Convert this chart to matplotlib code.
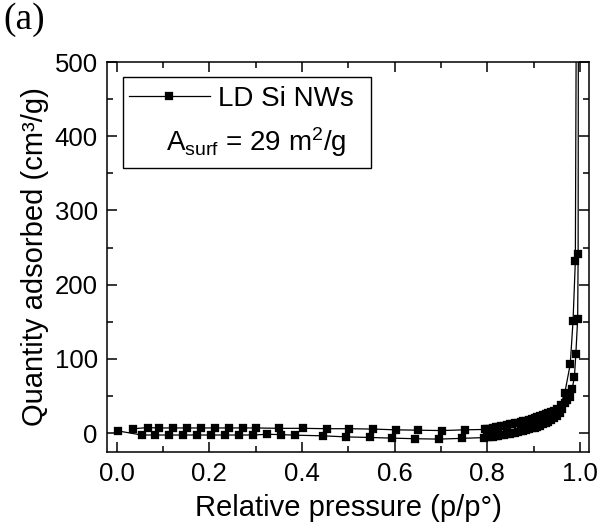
import matplotlib
matplotlib.use('Agg')
import matplotlib.pyplot as plt
from matplotlib.patches import Rectangle
from matplotlib.ticker import MultipleLocator

plt.rcParams['font.family'] = ['Liberation Sans', 'DejaVu Sans']
plt.rcParams['mathtext.default'] = 'regular'

# adsorption branch (lower)
ads_p = [0.003, 0.054, 0.083, 0.113, 0.144, 0.174, 0.204, 0.234, 0.264, 0.295,
         0.325, 0.355, 0.385, 0.445, 0.495, 0.546, 0.595, 0.644, 0.695, 0.745,
         0.792, 0.800, 0.806, 0.812, 0.818, 0.824, 0.830, 0.836, 0.842, 0.848,
         0.854, 0.860, 0.866, 0.872, 0.878, 0.884, 0.890, 0.896, 0.902, 0.908,
         0.914, 0.920, 0.926, 0.932, 0.938, 0.944, 0.950, 0.956, 0.962, 0.968,
         0.973, 0.978, 0.983, 0.988, 0.991, 0.995, 0.996, 0.997]
ads_q = [3, -2.5, -2.5, -2.5, -2.5, -2.5, -2.5, -2.5, -2.5, -2.5,
         -1.5, -2, -2.7, -3.6, -5, -5.8, -6.7, -7.5, -8, -7,
         -6, -5.5, -5, -4.5, -4, -3.4, -2.8, -2.2, -1.5, -0.8,
         0, 0.8, 1.6, 2.4, 3.3, 4.3, 5.3, 6.4, 7.5, 8.8,
         10.2, 11.8, 13.5, 15.5, 17.5, 20, 23, 27, 33, 40,
         45, 49, 59, 76, 106, 154, 241, 900]

# desorption branch (upper)
des_p = [0.994, 0.990, 0.985, 0.979, 0.967, 0.958, 0.950, 0.944, 0.938, 0.932,
         0.926, 0.920, 0.914, 0.908, 0.902, 0.896, 0.890, 0.884, 0.878, 0.872,
         0.866, 0.860, 0.854, 0.848, 0.842, 0.836, 0.830, 0.824, 0.818, 0.812,
         0.806, 0.800, 0.795, 0.751, 0.702, 0.651, 0.602, 0.553, 0.502, 0.453,
         0.403, 0.351, 0.300, 0.272, 0.243, 0.212, 0.183, 0.152, 0.122, 0.091,
         0.067, 0.036]
des_q = [900, 232, 151, 93, 53.5, 38, 32.5, 30, 28.2, 26.7,
         25.3, 24, 22.7, 21.5, 20.3, 19.2, 18, 17, 16, 15,
         14.2, 13.4, 12.6, 11.8, 11, 10.2, 9.4, 8.6, 7.8, 7,
         6.2, 5.5, 5, 4.5, 3.5, 4, 4.5, 5.5, 6, 6,
         6.5, 6.5, 7, 7, 7, 7, 7, 7, 7, 7,
         7.5, 6]

fig = plt.figure(figsize=(6, 5.3), dpi=100)
ax = fig.add_axes([0.179, 0.147, 0.802, 0.736])

style = dict(color='black', lw=0.9, marker='s', markersize=5.5,
             markerfacecolor='black', markeredgecolor='black', markeredgewidth=0.2)
line, = ax.plot(ads_p, ads_q, **style)
ax.plot(des_p, des_q, **style)

ax.set_xlim(-0.02, 1.0186)
ax.set_ylim(-25.5, 500)
ax.xaxis.set_major_locator(MultipleLocator(0.2))
ax.xaxis.set_minor_locator(MultipleLocator(0.1))
ax.yaxis.set_major_locator(MultipleLocator(100))
ax.yaxis.set_minor_locator(MultipleLocator(50))
ax.xaxis.set_major_formatter(plt.FuncFormatter(lambda v, p: '%.1f' % v))

ax.tick_params(which='both', direction='in', top=True, right=True, width=1.1,
               labelsize=18.5, pad=7)
ax.tick_params(which='major', length=7)
ax.tick_params(which='minor', length=4)
for s in ax.spines.values():
    s.set_linewidth(1.1)

ax.set_xlabel('Relative pressure (p/p°)', fontsize=21, labelpad=6)
ax.set_ylabel('Quantity adsorbed (cm³/g)', fontsize=21, labelpad=4)

# legend box
ax.add_patch(Rectangle((0.033, 0.728), 0.514, 0.234, transform=ax.transAxes,
                       fill=False, lw=1.0, edgecolor='black', zorder=5))
ax.legend([line], ['LD Si NWs'], loc='upper left', bbox_to_anchor=(0.022, 0.968),
          frameon=False, fontsize=20, handlelength=2.9, handletextpad=0.3,
          borderaxespad=0)
ax.text(0.122, 0.795, r'A$_{surf}$ = 29 m$^{2}$/g', transform=ax.transAxes,
        fontsize=20, va='center', ha='left')

fig.text(0.005, 0.995, '(a)', family=['Liberation Serif', 'DejaVu Serif'],
         fontsize=27, va='top', ha='left')

fig.savefig('out.png', dpi=100)
